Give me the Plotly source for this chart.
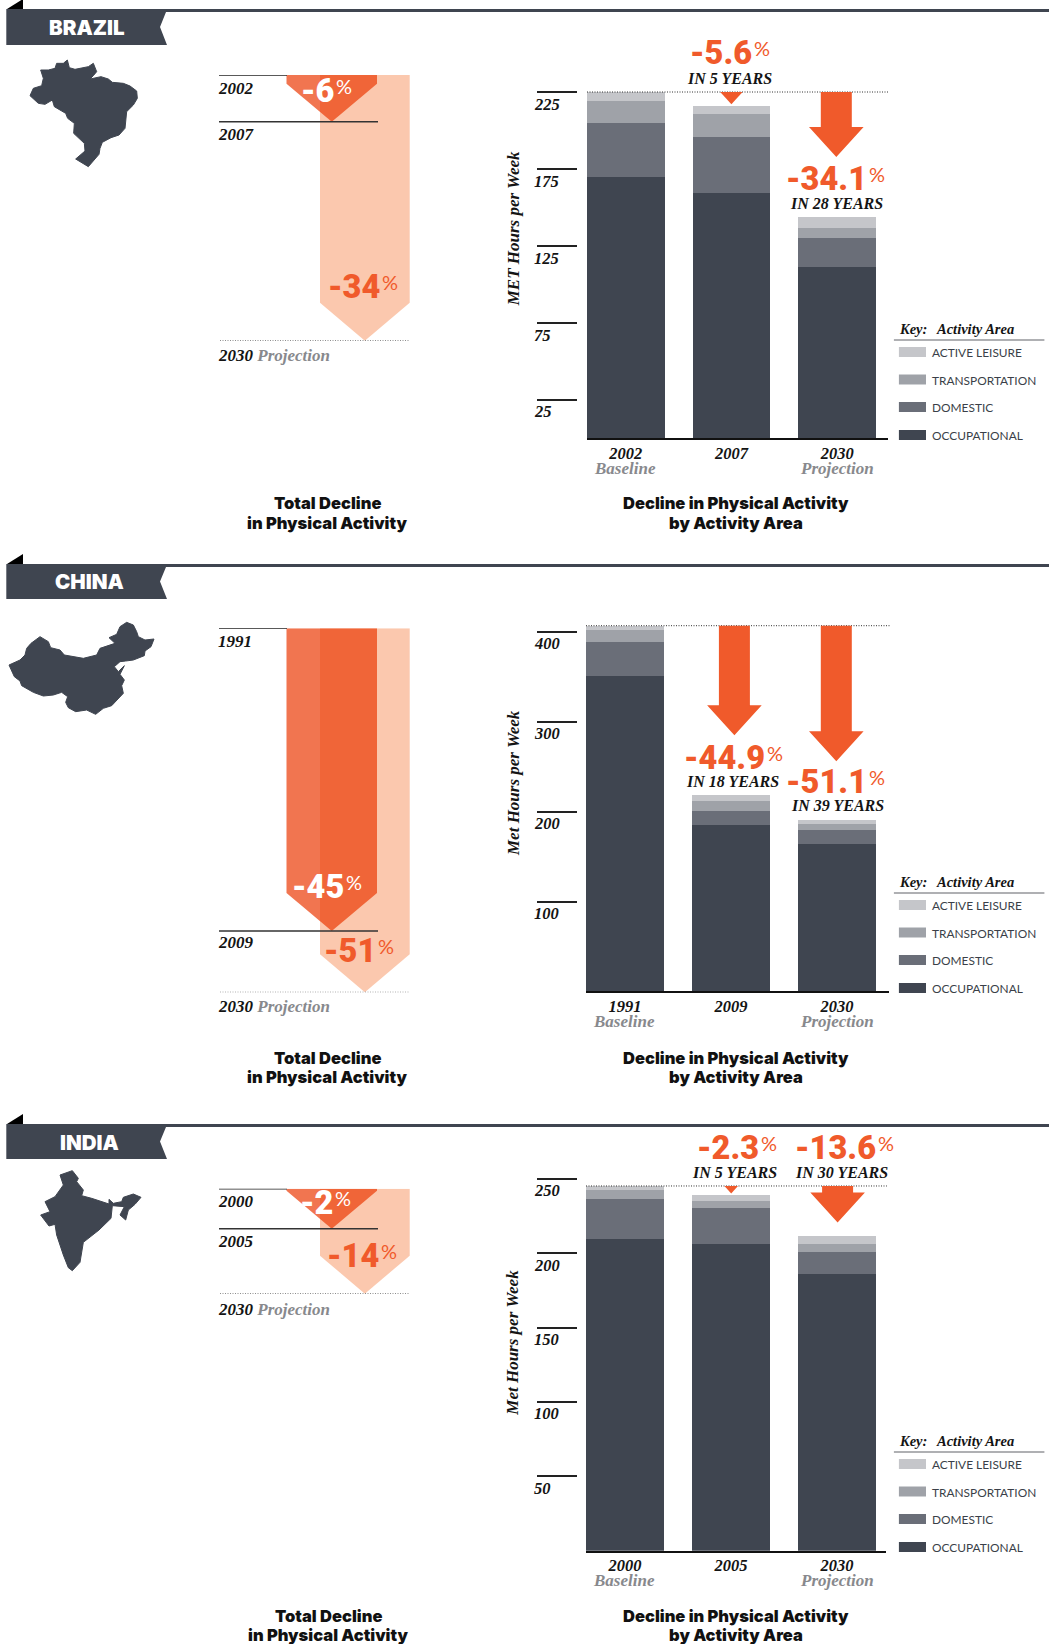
import plotly.graph_objects as go

W, H = 1049, 1644
SERIF = "Liberation Serif"
HEAVY = "Roboto"
TITLE = "Inter"
LIGHT = "Lato"

# ---- data ----
areas = ["OCCUPATIONAL", "DOMESTIC", "TRANSPORTATION", "ACTIVE LEISURE"]
area_colors = ["#3F4550", "#6A6E78", "#9FA2A8", "#C5C6CA"]

brazil_years = ["2002", "2007", "2030"]
brazil_occ = [170.0, 159.6, 111.5]
brazil_dom = [35.1, 36.4, 18.8]
brazil_tra = [14.3, 15.0, 6.5]
brazil_lei = [5.9, 5.2, 7.2]
brazil_ticks = [25, 75, 125, 175, 225]
brazil_arrow_tips = [217.3, 183.0]

china_years = ["1991", "2009", "2030"]
china_occ = [350.4, 184.6, 163.5]
china_dom = [37.8, 15.6, 15.5]
china_tra = [13.4, 11.1, 6.8]
china_lei = [5.2, 6.7, 4.4]
china_ticks = [100, 200, 300, 400]
china_arrow_tips = [285.0, 256.0]

india_years = ["2000", "2005", "2030"]
india_occ = [209.8, 206.4, 186.2]
india_dom = [26.8, 24.2, 14.8]
india_tra = [6.1, 4.7, 5.4]
india_lei = [2.5, 4.0, 5.4]
india_ticks = [50, 100, 150, 200, 250]
india_arrow_tips = [240.2, 220.7]

# drawn depth of the two decline arrows, on each panel's percent scale
brazil_depth = [5.98, 34.0]
china_depth = [42.4, 51.0]
india_depth = [5.33, 14.0]

brazil_outline = [(127,15),(133,38),(150,43),(175,38),(190,35),(205,25),(215,50),(205,62),(195,72),(228,65),(250,72),(262,82),(295,85),(315,93),(335,108),(337,130),(325,150),(305,170),(302,195),(300,220),(282,240),(258,248),(232,262),(225,280),(222,298),(205,318),(190,335),(152,312),(180,288),(178,265),(162,250),(146,235),(148,205),(128,190),(122,175),(88,155),(82,135),(60,148),(40,145),(15,122),(25,100),(50,92),(55,70),(47,45),(70,45),(90,40),(95,25),(115,25)]
china_outline = [(365,22),(385,30),(395,50),(400,65),(420,75),(447,72),(438,95),(420,108),(418,122),(385,135),(362,138),(345,140),(328,155),(340,170),(358,152),(345,178),(358,195),(350,212),(355,235),(340,250),(320,272),(295,280),(272,298),(245,285),(212,290),(190,278),(182,262),(188,245),(170,232),(145,240),(115,243),(85,232),(50,212),(45,198),(28,185),(12,150),(45,135),(60,120),(65,100),(78,85),(105,65),(130,80),(137,98),(165,105),(178,120),(235,130),(275,120),(285,100),(330,85),(312,68),(335,58),(345,35)]
india_outline = [(112,17),(130,40),(125,50),(145,75),(140,92),(170,100),(222,117),(222,103),(235,115),(260,110),(265,97),(295,87),(318,97),(300,118),(280,135),(272,165),(255,150),(268,125),(232,122),(228,160),(192,195),(145,232),(135,292),(112,317),(100,308),(85,270),(65,210),(60,178),(42,183),(17,150),(45,140),(30,110),(60,95),(85,60),(75,30),(90,25)]

# ---- helpers ----
def X(p): return p / W
def Y(p): return 1 - p / H

ORANGE = "#F05A2B"
PALE = "#FBC8AE"
DARK_A = "rgba(235,58,6,0.70)"
BLACK = "#141414"
GREY = "#88898D"

fig = go.Figure()
shapes, ann = [], []

def text(x, y, s, size, color=BLACK, family=SERIF, weight="bold", style="italic", xa="left", angle=0):
    ann.append(dict(x=X(x), y=Y(y), xref="paper", yref="paper", text=s, showarrow=False, xanchor=xa,
                    yanchor="middle", textangle=angle, borderpad=0,
                    font=dict(family=family, size=size, color=color, weight=weight, style=style)))

def pct(xj, y, num, color, size=32.5, psize=20, pdy=5):
    text(xj, y, num, size, color, HEAVY, 900, "normal", "right")
    text(xj, y - pdy, "%", psize, color, LIGHT, 400, "normal", "left")

def rect(x0, y0, x1, y1, color):
    shapes.append(dict(type="rect", xref="paper", yref="paper", x0=X(x0), x1=X(x1), y0=Y(y0), y1=Y(y1),
                       fillcolor=color, line=dict(width=0), layer="above"))

def poly(pts, color):
    d = "M" + "L".join(f"{X(a):.5f},{Y(b):.5f}" for a, b in pts) + "Z"
    shapes.append(dict(type="path", xref="paper", yref="paper", path=d, fillcolor=color, line=dict(width=0)))

def left_arrow(xaxis, yaxis, x0, x1, depth, head, color):
    xc = (x0 + x1) / 2
    h = max(depth - head, 0)
    fig.add_trace(go.Scatter(x=[x0, x1, x1, xc, x0, x0], y=[0, 0, h, depth, h, 0], mode="lines",
                             fill="toself", fillcolor=color, line=dict(width=0, color="rgba(0,0,0,0)"),
                             hoverinfo="skip", showlegend=False, xaxis=xaxis, yaxis=yaxis))

panels = [
 dict(n=1, name="BRAZIL", banner_top=9, banner_bot=45, banner_x=86.7, map=brazil_outline, map_o=(25, 55),
      years=brazil_years, s=[brazil_occ, brazil_dom, brazil_tra, brazil_lei], ticks=brazil_ticks,
      base=438.3, scale=1.537, plot_top=70, bar_left=587, ax_right=888, top_val=225.3, unit=105.7, bar_w=77.5,
      ylab="MET Hours per Week", ylab_y=229.3,
      tips=brazil_arrow_tips, tip_x=[731.4, 836.3],
      depth=brazil_depth, l_top=75, l_bot=340.7,
      l_labels=[("2002", 88), ("2007", 135), ("2030", 355)],
      l_pct=[(335, 91, "-6", "#FFFFFF"), (381, 287, "-34", ORANGE)],
      r_pct=[(752.7, 53.3, "-5.6", 729.6, 78.7, "IN 5 YEARS"), (867.9, 179.3, "-34.1", 836.9, 203.7, "IN 28 YEARS")],
      sub_y=468.5, sub_x=[624.8, 836.8], title_y=(503, 522.5), key_y=329, tot_x=327),
 dict(n=2, name="CHINA", banner_top=564, banner_bot=599, banner_x=89.3, map=china_outline, map_o=(5, 615),
      years=china_years, s=[china_occ, china_dom, china_tra, china_lei], ticks=china_ticks,
      base=991.4, scale=0.899, plot_top=600, bar_left=586, ax_right=889, top_val=406.8, unit=106, bar_w=78,
      ylab="Met Hours per Week", ylab_y=783,
      tips=china_arrow_tips, tip_x=[734.4, 836.3],
      depth=china_depth, l_top=628.3, l_bot=992.3,
      l_labels=[("1991", 641), ("2009", 942.7), ("2030", 1006.7)],
      l_pct=[(345, 887, "-45", "#FFFFFF"), (377, 950.7, "-51", ORANGE)],
      r_pct=[(766.3, 757.7, "-44.9", 732.4, 781.7, "IN 18 YEARS"), (867.9, 781.7, "-51.1", 837.2, 805.7, "IN 39 YEARS")],
      sub_y=1021.5, sub_x=[624.4, 836.8], title_y=(1058, 1077), key_y=882, tot_x=327),
 dict(n=3, name="INDIA", banner_top=1124, banner_bot=1159, banner_x=89.3, map=india_outline, map_o=(35, 1165),
      years=india_years, s=[india_occ, india_dom, india_tra, india_lei], ticks=india_ticks,
      base=1550.7, scale=1.4875, plot_top=1160, bar_left=586, ax_right=886.4, top_val=245.2, unit=106, bar_w=78,
      ylab="Met Hours per Week", ylab_y=1342.7,
      tips=india_arrow_tips, tip_x=[731.2, 837.6],
      depth=india_depth, l_top=1188.7, l_bot=1293.7,
      l_labels=[("2000", 1201), ("2005", 1241), ("2030", 1309)],
      l_pct=[(334, 1203, "-2", "#FFFFFF"), (380, 1255.7, "-14", ORANGE)],
      r_pct=[(759.9, 1148.3, "-2.3", 734.6, 1172.7, "IN 5 YEARS"), (876.8, 1148.3, "-13.6", 841.5, 1172.7, "IN 30 YEARS")],
      sub_y=1580.5, sub_x=[624.4, 836.8], title_y=(1616, 1635), key_y=1441, tot_x=328),
]

layout_axes = {}

for p in panels:
    n = p["n"]
    xa, ya = f"x{n}", f"y{n}"
    # stacked bars
    unit = p["unit"]
    bar_w = p["bar_w"]
    for name, col, vals in zip(areas, area_colors, p["s"]):
        fig.add_trace(go.Bar(x=p["years"], y=vals, name=name, marker=dict(color=col, line=dict(width=0)),
                             width=bar_w / unit, xaxis=xa, yaxis=ya, showlegend=False, hoverinfo="skip"))
    rng_l = -(bar_w / 2) / unit
    rng_r = (p["ax_right"] - p["bar_left"] - bar_w / 2) / unit
    layout_axes[f"xaxis{n}"] = dict(
        domain=[X(p["bar_left"]), X(p["ax_right"])], range=[rng_l, rng_r], type="category",
        categoryorder="array", categoryarray=p["years"], anchor=ya, showgrid=False, zeroline=False,
        showline=True, linecolor="#111111", linewidth=1.5, ticks="", ticklabelstandoff=-1,
        tickfont=dict(family=SERIF, size=16.5, color=BLACK, weight="bold", style="italic"))
    top_v = (p["base"] - p["plot_top"]) / p["scale"]
    layout_axes[f"yaxis{n}"] = dict(
        domain=[Y(p["base"]), Y(p["plot_top"])], range=[0, top_v], anchor="free", position=X(576.6),
        tickmode="array", tickvals=p["ticks"], showticklabels=False, ticks="outside", ticklen=40,
        tickcolor="#222222", tickwidth=1.5, showgrid=False, zeroline=False, showline=False)

    # tick labels under their rules
    for t in p["ticks"]:
        ann.append(dict(x=X(532.8), y=t, xref="paper", yref=ya, text=str(t), showarrow=False, xanchor="left",
                        yanchor="middle", yshift=-12, borderpad=0,
                        font=dict(family=SERIF, size=16.5, color=BLACK, weight="bold", style="italic")))
    text(513, p["ylab_y"], p["ylab"], 17, xa="center", angle=-90)

    # dotted reference line at the baseline level
    shapes.append(dict(type="line", xref="paper", yref=ya, x0=X(p["bar_left"]), x1=X(p["ax_right"] + 0.5),
                       y0=p["top_val"], y1=p["top_val"],
                       line=dict(color="#333333", width=1, dash="1px,1.5px")))

    # orange decline arrows
    for tip, xc in zip(p["tips"], p["tip_x"]):
        v = p["top_val"]
        d_px = (v - tip) * p["scale"]
        hl = 30.0
        hw = 27.3 if d_px >= hl else d_px * 27.3 / hl
        hs = max(d_px - hl, 0) / p["scale"]
        sw = 15.5
        if d_px > hl:
            pts = [(xc - sw, v), (xc + sw, v), (xc + sw, v - hs), (xc + hw, v - hs), (xc, tip), (xc - hw, v - hs), (xc - sw, v - hs)]
        else:
            pts = [(xc - hw, v), (xc + hw, v), (xc, tip)]
        d = "M" + "L".join(f"{X(a):.5f},{b:.3f}" for a, b in pts) + "Z"
        shapes.append(dict(type="path", xref="paper", yref=ya, path=d, fillcolor=ORANGE, line=dict(width=0)))

    for xj, y, num, cx, cy, lab in p["r_pct"]:
        pct(xj, y, num, ORANGE)
        text(cx, cy, lab, 16, xa="center")

    # sub labels under years
    text(p["sub_x"][0], p["sub_y"], "Baseline", 17, GREY, xa="center")
    text(p["sub_x"][1], p["sub_y"], "Projection", 17, GREY, xa="center")

    # bottom titles
    for txt1, txt2, cx in [("Total Decline", "in Physical Activity", p["tot_x"]),
                           ("Decline in Physical Activity", "by Activity Area", 736)]:
        text(cx, p["title_y"][0], txt1, 16.5, "#111111", TITLE, 900, "normal", "center")
        text(cx, p["title_y"][1], txt2, 16.5, "#111111", TITLE, 900, "normal", "center")

    # left decline panel
    la_x, la_y = f"x{n+3}", f"y{n+3}"
    dmax = p["depth"][1]
    s = (p["l_bot"] - p["l_top"]) / dmax
    left_arrow(la_x, la_y, 320, 409.7, p["depth"][1], 38 / s, PALE)
    left_arrow(la_x, la_y, 286.5, 377, p["depth"][0], 38 / s, DARK_A)
    layout_axes[f"xaxis{n+3}"] = dict(domain=[X(219), X(411)], range=[219, 411], visible=False, anchor=la_y)
    layout_axes[f"yaxis{n+3}"] = dict(domain=[Y(p["l_bot"]), Y(p["l_top"])], range=[dmax, 0], visible=False, anchor=la_x)
    shapes.append(dict(type="line", xref="paper", yref=la_y, x0=X(219), x1=X(287), y0=0, y1=0,
                       line=dict(color="#222222", width=1.5)))
    shapes.append(dict(type="line", xref="paper", yref=la_y, x0=X(219), x1=X(378), y0=p["depth"][0], y1=p["depth"][0],
                       line=dict(color="#333333", width=1.5)))
    shapes.append(dict(type="line", xref="paper", yref=la_y, x0=X(220), x1=X(409.5), y0=dmax, y1=dmax,
                       line=dict(color="#444444", width=1, dash="1px,1.5px")))
    (y1_lab, ly1), (y2_lab, ly2), (y3_lab, ly3) = p["l_labels"]
    text(217, ly1, y1_lab, 17)
    text(217, ly2, y2_lab, 17)
    text(216.5, ly3, f'{y3_lab} <span style="color:{GREY}">Projection</span>', 17)
    for xj, y, num, col in p["l_pct"]:
        pct(xj, y, num, col)

    # banner and page rule
    t, b = p["banner_top"], p["banner_bot"]
    rect(166, t, W, t + 3, "#3F4550")
    poly([(6.3, t), (166, t), (166, t + 3), (160, (t + b) / 2), (167, b), (6.3, b)], "#3F4550")
    poly([(7, t), (23, t - 10), (23, t)], "#000000")
    text(p["banner_x"], (t + b) / 2 + 0.5, p["name"], 20.5, "#FFFFFF", TITLE, 900, "normal", "center")

    # country silhouette
    ox, oy = p["map_o"]
    mx = [a / 3 + ox for a, _ in p["map"]] + [p["map"][0][0] / 3 + ox]
    my = [c / 3 + oy for _, c in p["map"]] + [p["map"][0][1] / 3 + oy]
    fig.add_trace(go.Scatter(x=mx, y=my, mode="lines", fill="toself", fillcolor="#3F4550",
                             line=dict(width=1, color="#3F4550"), hoverinfo="skip", showlegend=False,
                             xaxis="x7", yaxis="y7"))

    # key
    k = p["key_y"]
    text(897.7, k, "Key:", 14.5)
    text(934.7, k, "Activity Area", 14.5)
    shapes.append(dict(type="line", xref="paper", yref="paper", x0=X(893.9), x1=X(1044.4), y0=Y(k + 11), y1=Y(k + 11),
                       line=dict(color="#AFB0B3", width=2)))
    for off, name, col in zip([23, 50.5, 78, 106], areas[::-1], area_colors[::-1]):
        rect(898.9, k + off - 5, 926, k + off + 5, col)
        text(931, k + off + 0.7, name, 11.9, "#3a3f48", LIGHT, 400, "normal")

layout_axes["xaxis7"] = dict(domain=[0, 1], range=[0, W], visible=False, anchor="y7")
layout_axes["yaxis7"] = dict(domain=[0, 1], range=[H, 0], visible=False, anchor="x7")

fig.update_layout(width=W, height=H, margin=dict(l=0, r=0, t=0, b=0), paper_bgcolor="white",
                  plot_bgcolor="rgba(0,0,0,0)", barmode="stack", bargap=0, showlegend=False,
                  shapes=shapes, annotations=ann, **layout_axes)

fig.write_html("out.html", config={"displayModeBar": False},
               post_script="document.body.style.margin='0';document.body.style.overflow='hidden';")
